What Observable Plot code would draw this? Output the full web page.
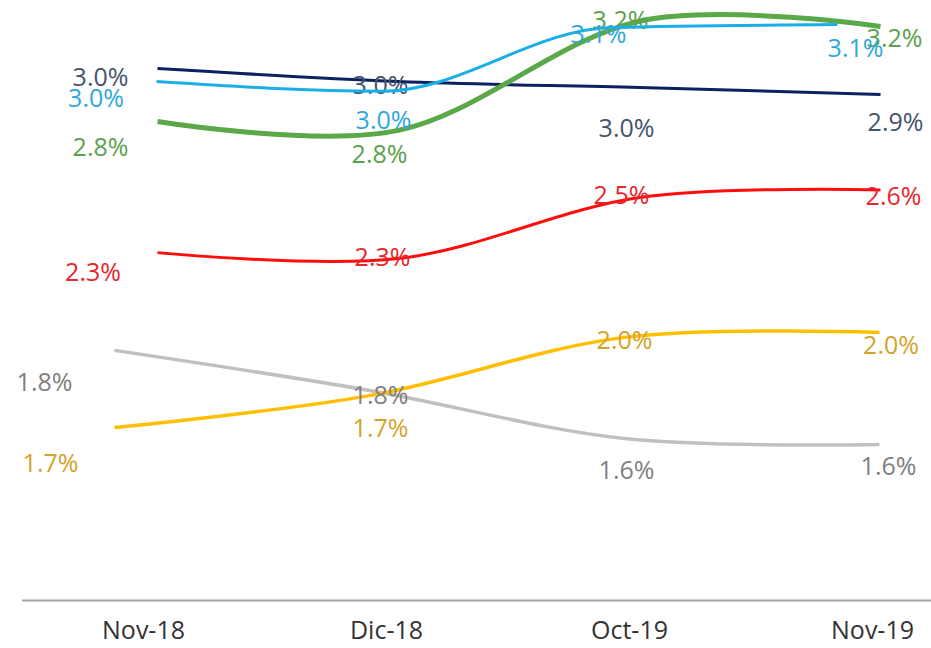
<!DOCTYPE html>
<html>
<head>
<meta charset="utf-8">
<script src="https://cdn.jsdelivr.net/npm/d3@7"></script>
<script src="https://cdn.jsdelivr.net/npm/@observablehq/plot@0.6"></script>
<style>
  body { margin: 0; background: #ffffff; }
  #chart { position: relative; width: 931px; height: 648px; overflow: hidden; background: #ffffff; }
  #chart svg { position: absolute; left: 0; top: 0; }
</style>
</head>
<body>
<div id="chart"></div>
<script>
// ---------- data ----------
const categories = ["Nov-18", "Dic-18", "Oct-19", "Nov-19"];

const navyValues   = [3.046, 2.996, 2.973, 2.946];
const navyLabels   = ["3.0%", "3.0%", "3.0%", "2.9%"];

const blueValues   = [2.996, 2.959, 3.204, 3.215];
const blueLabels   = ["3.0%", "3.0%", "3.1%", "3.1%"];

const greenValues  = [2.842, 2.808, 3.228, 3.208];
const greenLabels  = ["2.8%", "2.8%", "3.2%", "3.2%"];

const redValues    = [2.338, 2.315, 2.550, 2.579];
const redLabels    = ["2.3%", "2.3%", "2.5%", "2.6%"];

const yellowValues = [1.665, 1.788, 2.012, 2.031];
const yellowLabels = ["1.7%", "1.7%", "2.0%", "2.0%"];

const grayValues   = [1.962, 1.808, 1.623, 1.600];
const grayLabels   = ["1.8%", "1.8%", "1.6%", "1.6%"];

// ---------- styles / layout (not data) ----------
const FONT = "'Open Sans', 'DejaVu Sans', sans-serif";
const yScale = {domain: [1, 3.3], range: [600, 2]};

const styles = {
  navy:   {stroke: "#0b2160", width: 3,   labelColor: "#44546a", curve: "cardinal",
           offsets: [[-57, 9], [-18, 4], [-13, 41.5], [15, 28]]},
  blue:   {stroke: "#1aaee8", width: 3,   labelColor: "#2fa7dc", curve: "monotone-x",
           offsets: [[-60.5, 17], [0, 30], [-12, 8], [18, 24]]},
  green:  {stroke: "#5aa848", width: 5,   labelColor: "#5aa24c", curve: "cardinal",
           offsets: [[-57, 26], [-19, 25], [-19, 0], [14, 13]]},
  red:    {stroke: "#ff0d0d", width: 3,   labelColor: "#e8262b", curve: "cardinal",
           offsets: [[-64.5, 20.5], [-16, -1], [-18, -1.5], [13, 7.5]]},
  yellow: {stroke: "#ffbf00", width: 3.5, labelColor: "#d4a32a", curve: "cardinal",
           offsets: [[-64, 36], [11, 33], [0, 4], [11.5, 13.5]]},
  gray:   {stroke: "#c0c0c0", width: 3.5, labelColor: "#7f7f7f", curve: "cardinal",
           offsets: [[-70, 33], [11, 6], [2, 32], [9, 22.5]]}
};

const seriesData = {
  navy:   {values: navyValues,   labels: navyLabels},
  blue:   {values: blueValues,   labels: blueLabels},
  green:  {values: greenValues,  labels: greenLabels},
  red:    {values: redValues,    labels: redLabels},
  yellow: {values: yellowValues, labels: yellowLabels},
  gray:   {values: grayValues,   labels: grayLabels}
};

// The original is a composite of overlaid charts, each with its own horizontal extent.
const layers = [
  {series: ["gray", "yellow"],        xRange: [113, 880]},
  {series: ["navy", "red", "green"],  xRange: [156, 880]},
  {series: ["blue"],                  xRange: [156, 837]}
];

const chart = document.getElementById("chart");

function rowsOf(name) {
  const s = seriesData[name];
  return categories.map((c, i) => ({cat: c, value: s.values[i], label: s.labels[i]}));
}

// ---------- axis layer ----------
chart.appendChild(Plot.plot({
  width: 931,
  height: 648,
  marginLeft: 22,
  marginRight: 0,
  marginTop: 0,
  marginBottom: 48,
  style: {background: "none", fontFamily: FONT},
  x: {type: "point", domain: categories, range: [142, 872], padding: 0},
  y: {...yScale, axis: null},
  marks: [
    Plot.ruleY([1], {stroke: "#a3a3a3", strokeWidth: 2.2}),
    Plot.axisX({anchor: "bottom", tickSize: 0, tickPadding: 21, fontSize: 25, fill: "#333333", label: null})
  ]
}));

// ---------- line layers ----------
for (const layer of layers) {
  const marks = [];
  for (const name of layer.series) {
    const st = styles[name];
    marks.push(Plot.line(rowsOf(name), {
      x: "cat", y: "value", stroke: st.stroke, strokeWidth: st.width,
      curve: st.curve, strokeLinecap: "butt", strokeLinejoin: "round"
    }));
  }
  for (const name of layer.series) {
    const st = styles[name];
    rowsOf(name).forEach((row, i) => {
      marks.push(Plot.text([row], {
        x: "cat", y: "value", text: "label",
        dx: st.offsets[i][0], dy: st.offsets[i][1],
        fill: st.labelColor, fontSize: 25, textAnchor: "middle", lineAnchor: "middle"
      }));
    });
  }
  chart.appendChild(Plot.plot({
    width: 931,
    height: 648,
    margin: 0,
    style: {background: "none", fontFamily: FONT},
    x: {type: "point", domain: categories, range: layer.xRange, padding: 0, axis: null},
    y: {...yScale, axis: null},
    marks
  }));
}
</script>
</body>
</html>
